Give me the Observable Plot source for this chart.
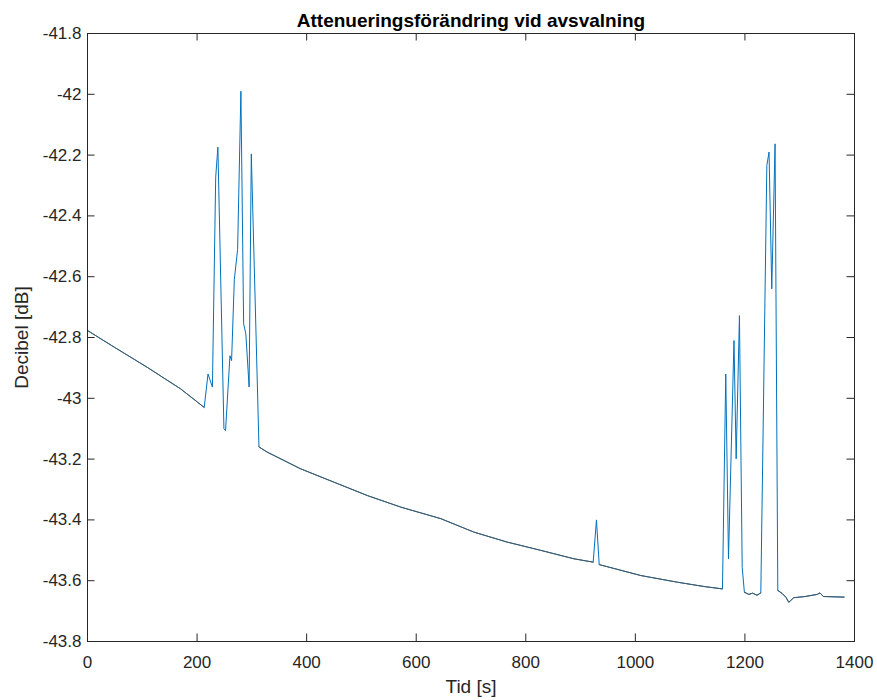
<!DOCTYPE html>
<html>
<head>
<meta charset="utf-8">
<script src="https://cdn.jsdelivr.net/npm/d3@7"></script>
<script src="https://cdn.jsdelivr.net/npm/@observablehq/plot@0.6"></script>
<style>
  html, body { margin: 0; padding: 0; background: #fff; }
  #chart svg { display: block; }
</style>
</head>
<body>
<div id="chart"></div>
<script>
// ---- data ----
const chartTitle = "Attenueringsförändring vid avsvalning";
const xLabel = "Tid [s]";
const yLabel = "Decibel [dB]";

const time = [0, 49, 109, 170, 213, 220, 228, 234, 238, 249, 252, 260, 263, 268, 274, 280, 285, 289, 295, 299,
  313, 328, 389, 450, 511, 572, 645, 705, 766, 827, 888, 923, 929, 934, 1010, 1077, 1125, 1159,
  1165, 1170, 1180, 1184, 1190, 1195, 1199, 1207, 1214, 1222, 1229, 1240, 1244, 1249, 1255, 1260,
  1268, 1275, 1280, 1289, 1310, 1332, 1337, 1343, 1381];
const decibel = [-42.777, -42.832, -42.898, -42.969, -43.03, -42.92, -42.963, -42.273, -42.174, -43.10, -43.106,
  -42.86, -42.876, -42.61, -42.51, -41.99, -42.755, -42.788, -42.963, -42.196,
  -43.16, -43.177, -43.232, -43.276, -43.32, -43.358, -43.396, -43.44, -43.473, -43.50, -43.528, -43.539,
  -43.40, -43.547, -43.583, -43.605, -43.619, -43.627,
  -42.92, -43.528, -42.81, -43.199, -42.728, -43.556, -43.638, -43.645, -43.641, -43.648, -43.640,
  -42.234, -42.19, -42.64, -42.163, -43.632,
  -43.642, -43.655, -43.671, -43.656, -43.652, -43.645, -43.640, -43.652, -43.654];
// time windows (open intervals) holding the spikes
const spikeWindows = [[213, 313], [923, 934], [1159, 1199], [1229, 1260]];

const xTicks = [0, 200, 400, 600, 800, 1000, 1200, 1400];
const yTicks = [-41.8, -42, -42.2, -42.4, -42.6, -42.8, -43, -43.2, -43.4, -43.6, -43.8];

// ---- layout ----
const W = 877, H = 700;
const mL = 87, mR = 23, mT = 33, mB = 59;
const innerW = W - mL - mR, innerH = H - mT - mB;
const tickLen = 7.5;
const axisColor = "#262626";
const font = "'Liberation Sans', Arial, Helvetica, sans-serif";

const data = time.map((t, i) => ({
  t,
  db: decibel[i],
  calm: spikeWindows.some(([a, b]) => t > a && t < b) ? NaN : decibel[i]
}));

const fmt = d => String(Math.round(d * 10) / 10);

const plot = Plot.plot({
  width: W,
  height: H,
  marginLeft: mL, marginRight: mR, marginTop: mT, marginBottom: mB,
  style: { fontFamily: font, background: "#fff", color: axisColor },
  x: { domain: [0, 1400] },
  y: { domain: [-43.8, -41.8] },
  marks: [
    Plot.line(data, { x: "t", y: "db", stroke: "#0072BD", strokeWidth: 1 }),
    Plot.line(data, { x: "t", y: "calm", stroke: "#4a575f", strokeWidth: 1 }),
    Plot.frame({ stroke: axisColor, strokeWidth: 1 }),
    // inward ticks on all four sides
    Plot.tickX(xTicks, { x: d => d, insetTop: innerH - tickLen, stroke: axisColor }),
    Plot.tickX(xTicks, { x: d => d, insetBottom: innerH - tickLen, stroke: axisColor }),
    Plot.tickY(yTicks, { y: d => d, insetRight: innerW - tickLen, stroke: axisColor }),
    Plot.tickY(yTicks, { y: d => d, insetLeft: innerW - tickLen, stroke: axisColor }),
    Plot.axisX(xTicks, { anchor: "bottom", tickSize: 0, tickPadding: 14, tickFormat: fmt, fontSize: 17, fill: axisColor, label: null }),
    Plot.axisY(yTicks, { anchor: "left", tickSize: 0, tickPadding: 6, tickFormat: fmt, fontSize: 17, fill: axisColor, label: null }),
    Plot.text([chartTitle], { frameAnchor: "top", lineAnchor: "bottom", dy: -7, fontSize: 19, fontWeight: "bold", fill: "#000" }),
    Plot.text([xLabel], { frameAnchor: "bottom", lineAnchor: "bottom", dy: 51, fontSize: 19, fill: axisColor }),
    Plot.text([yLabel], { frameAnchor: "left", textAnchor: "middle", lineAnchor: "bottom", rotate: -90, dx: -60, fontSize: 19, fill: axisColor })
  ]
});
document.getElementById("chart").appendChild(plot);
</script>
</body>
</html>
